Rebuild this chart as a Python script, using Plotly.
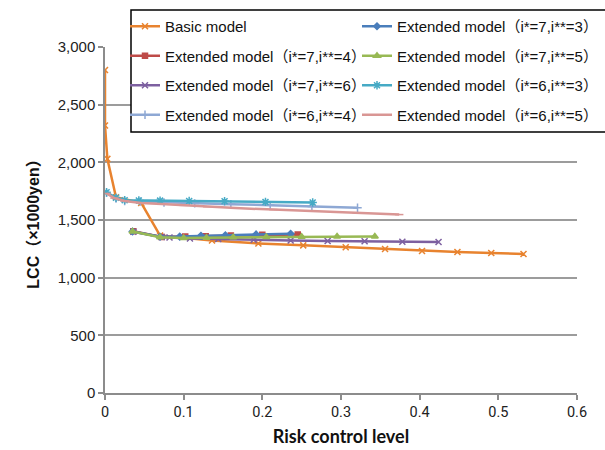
import plotly.graph_objects as go

# ---------------- data ----------------
basic_x = [0.0, 0.0, 0.003, 0.014, 0.046, 0.070, 0.136, 0.195, 0.252, 0.306, 0.356, 0.403, 0.448, 0.491, 0.532]
basic_y = [2800, 2320, 2030, 1698, 1648, 1365, 1323, 1297, 1280, 1263, 1249, 1232, 1223, 1214, 1205]

e73_x = [0.035, 0.070, 0.095, 0.122, 0.153, 0.192, 0.236]
e73_y = [1400, 1355, 1356, 1363, 1368, 1375, 1380]

e74_x = [0.036, 0.072, 0.102, 0.128, 0.160, 0.200, 0.245]
e74_y = [1402, 1352, 1356, 1360, 1366, 1372, 1374]

e75_x = [0.035, 0.070, 0.100, 0.129, 0.163, 0.205, 0.250, 0.295, 0.343]
e75_y = [1400, 1350, 1345, 1346, 1350, 1352, 1355, 1357, 1358]

e76_x = [0.036, 0.072, 0.082, 0.108, 0.144, 0.189, 0.236, 0.283, 0.330, 0.378, 0.424]
e76_y = [1398, 1353, 1348, 1340, 1336, 1328, 1322, 1318, 1315, 1311, 1310]

e63_x = [0.002, 0.014, 0.025, 0.043, 0.070, 0.107, 0.152, 0.204, 0.264]
e63_y = [1740, 1692, 1672, 1670, 1668, 1665, 1662, 1657, 1652]

e64_x = [0.002, 0.014, 0.025, 0.045, 0.075, 0.114, 0.160, 0.210, 0.263, 0.321]
e64_y = [1735, 1686, 1665, 1660, 1652, 1644, 1637, 1628, 1618, 1606]

e65_x = [0.002, 0.012, 0.025, 0.046, 0.072, 0.100, 0.130, 0.166, 0.214, 0.265, 0.320, 0.374]
e65_y = [1730, 1690, 1665, 1648, 1638, 1627, 1615, 1604, 1590, 1576, 1561, 1547]

names = [
    "Basic model",
    "Extended model（i*=7,i**=3）",
    "Extended model（i*=7,i**=4）",
    "Extended model（i*=7,i**=5）",
    "Extended model（i*=7,i**=6）",
    "Extended model（i*=6,i**=3）",
    "Extended model（i*=6,i**=4）",
    "Extended model（i*=6,i**=5）",
]

x_ticks = [0, 0.1, 0.2, 0.3, 0.4, 0.5, 0.6]
y_ticks = [0, 500, 1000, 1500, 2000, 2500, 3000]

# ---------------- styles ----------------
series = [
    (basic_x, basic_y, "#E8832F", "x-thin-open", 6, "legend"),
    (e73_x, e73_y, "#4A7EBB", "diamond", 5, "legend2"),
    (e74_x, e74_y, "#BE4B48", "square", 5, "legend"),
    (e75_x, e75_y, "#98B954", "triangle-up", 6, "legend2"),
    (e76_x, e76_y, "#7D60A0", "x-thin-open", 6, "legend"),
    (e63_x, e63_y, "#46AAC5", "asterisk-open", 7, "legend2"),
    (e64_x, e64_y, "#8EA8D4", "cross-thin-open", 6, "legend"),
    (e65_x, e65_y, "#D99694", "line-ew-open", 6, "legend2"),
]

fig = go.Figure()
order = [0, 2, 4, 6, 1, 3, 5, 7]
for k in order:
    xs, ys, col, sym, sz, lg = series[k]
    fig.add_trace(go.Scatter(
        x=xs, y=ys, name=names[k], mode="lines+markers",
        line=dict(color=col, width=2.5),
        marker=dict(symbol=sym, size=sz, color=col, line=dict(color=col, width=1.5)),
        legend=lg, legendgroup=names[k],
    ))

W, H = 605, 450
ml, mr, mt, mb = 105, 28, 47, 57
pw, ph = W - ml - mr, H - mt - mb

def px2x(p):
    return (p - ml) / pw

def px2y(p):
    return (H - mb - p) / ph

legend_font = dict(family="Liberation Sans, Arial, Noto Sans CJK JP", size=15, color="#111")

fig.update_layout(
    width=W, height=H,
    margin=dict(l=ml, r=mr, t=mt, b=mb, autoexpand=False),
    paper_bgcolor="white", plot_bgcolor="white",
    showlegend=True,
    legend=dict(x=px2x(125), y=px2y(10), xanchor="left", yanchor="top",
                bgcolor="rgba(0,0,0,0)", borderwidth=0, font=legend_font,
                tracegroupgap=7),
    legend2=dict(x=px2x(357), y=px2y(10), xanchor="left", yanchor="top",
                 bgcolor="rgba(0,0,0,0)", borderwidth=0, font=legend_font,
                 tracegroupgap=7),
    shapes=[dict(type="rect", xref="paper", yref="paper",
                 x0=px2x(131), x1=px2x(620), y0=px2y(132), y1=px2y(10),
                 line=dict(color="black", width=1.5), fillcolor="white", layer="above")],
    xaxis=dict(
        range=[0, 0.6], tickvals=x_ticks, ticktext=[str(v) if v else "0" for v in x_ticks],
        showgrid=False, zeroline=False, showline=True, linecolor="#8c8c8c", linewidth=1.5,
        ticks="outside", ticklen=5, tickcolor="#8c8c8c", tickwidth=1.5,
        tickfont=dict(family="Roboto, Lato, sans-serif", size=14.5, color="#222"),
        title=dict(text="<b>Risk control level</b>", standoff=10,
                   font=dict(family="Lato, Calibri, sans-serif", size=18, color="#111")),
        fixedrange=True,
    ),
    yaxis=dict(
        range=[0, 3000], tickvals=y_ticks, tickformat=",",
        showgrid=True, gridcolor="#9c9c9c", gridwidth=1.5,
        zeroline=False, showline=True, linecolor="#8c8c8c", linewidth=1.5,
        ticks="outside", ticklen=5, tickcolor="#8c8c8c", tickwidth=1.5,
        tickfont=dict(family="Liberation Sans, Arial, sans-serif", size=15, color="#222"),
        title=dict(text="<b>LCC（×1000yen）</b>", standoff=14,
                   font=dict(family="Liberation Sans, Arial, Noto Sans CJK JP", size=16, color="#111")),
        fixedrange=True,
    ),
)

fig.write_html("out.html")
